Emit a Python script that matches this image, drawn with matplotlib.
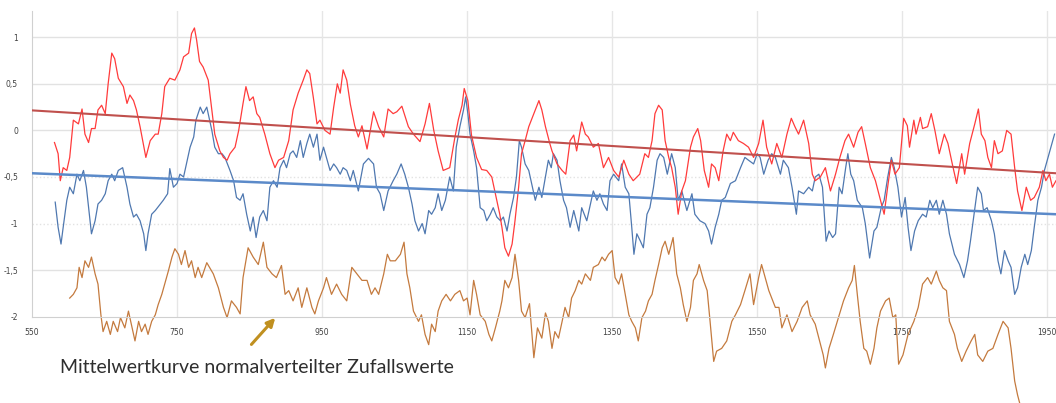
import matplotlib
matplotlib.use("Agg")
from matplotlib import pyplot as plt

# values
red_years = [581, 586, 589, 593, 598, 602, 607, 614, 619, 623, 628, 632, 637, 641, 646, 651, 655, 660, 664, 669,
             676, 681, 685, 690, 694, 699, 707, 713, 720, 724, 729, 733, 740, 747, 754, 759, 766, 770, 774, 777,
             781, 786, 793, 798, 802, 809, 814, 819, 823, 830, 835, 841, 845, 850, 855, 860, 864, 871, 878, 885,
             890, 897, 904, 910, 917, 924, 929, 933, 938, 943, 947, 954, 961, 966, 971, 975, 979, 984, 989, 995,
             1000, 1005, 1012, 1016, 1021, 1028, 1035, 1041, 1048, 1053, 1060, 1069, 1076, 1085, 1092, 1098, 1104, 1110, 1117, 1126,
             1133, 1138, 1143, 1146, 1151, 1156, 1163, 1170, 1177, 1184, 1189, 1195, 1198, 1202, 1207, 1212, 1216, 1221, 1225, 1230,
             1235, 1242, 1249, 1253, 1258, 1264, 1267, 1274, 1281, 1286, 1292, 1297, 1301, 1308, 1313, 1317, 1324, 1331, 1338, 1345,
             1352, 1359, 1366, 1373, 1379, 1388, 1395, 1400, 1405, 1409, 1414, 1419, 1423, 1428, 1432, 1437, 1441, 1446, 1451, 1458,
             1462, 1468, 1472, 1477, 1483, 1487, 1492, 1497, 1503, 1508, 1513, 1517, 1524, 1531, 1538, 1545, 1552, 1558, 1563, 1570,
             1577, 1584, 1591, 1597, 1602, 1607, 1614, 1621, 1626, 1630, 1637, 1644, 1651, 1658, 1664, 1671, 1676, 1683, 1689, 1694,
             1699, 1706, 1713, 1720, 1725, 1730, 1735, 1740, 1746, 1752, 1757, 1760, 1766, 1769, 1775, 1778, 1785, 1790, 1795, 1801,
             1808, 1813, 1819, 1825, 1832, 1836, 1843, 1850, 1855, 1859, 1864, 1868, 1873, 1877, 1882, 1888, 1894, 1900, 1905, 1909,
             1915, 1921, 1927, 1932, 1939, 1944, 1948, 1953, 1957, 1962]
red_vals = [-0.13, -0.25, -0.54, -0.40, -0.43, -0.29, 0.11, 0.07, 0.23, -0.04, -0.13, 0.02, 0.02, 0.22, 0.27, 0.18, 0.50, 0.83, 0.77, 0.56,
            0.47, 0.29, 0.38, 0.32, 0.22, 0.04, -0.29, -0.11, -0.04, -0.04, 0.18, 0.47, 0.56, 0.54, 0.65, 0.79, 0.83, 1.04, 1.10, 0.97,
            0.74, 0.68, 0.54, 0.22, -0.04, -0.22, -0.29, -0.32, -0.25, -0.18, 0.00, 0.29, 0.47, 0.32, 0.36, 0.18, 0.14, -0.04, -0.25, -0.40,
            -0.32, -0.29, -0.11, 0.22, 0.40, 0.54, 0.65, 0.61, 0.35, 0.07, 0.11, 0.00, -0.04, 0.25, 0.50, 0.40, 0.65, 0.54, 0.28, 0.05,
            -0.07, 0.05, -0.20, -0.02, 0.20, 0.04, -0.07, 0.23, 0.18, 0.20, 0.26, 0.04, -0.04, -0.12, 0.07, 0.29, 0.00, -0.22, -0.43, -0.40,
            -0.08, 0.12, 0.27, 0.45, 0.32, -0.05, -0.29, -0.42, -0.43, -0.50, -0.68, -0.90, -1.04, -1.26, -1.35, -1.22, -0.97, -0.61, -0.25, -0.11,
            0.04, 0.18, 0.32, 0.22, 0.04, -0.14, -0.22, -0.36, -0.43, -0.47, -0.11, -0.05, -0.22, 0.09, -0.04, -0.07, -0.18, -0.14, -0.40, -0.29,
            -0.43, -0.50, -0.32, -0.47, -0.54, -0.47, -0.25, -0.29, -0.11, 0.18, 0.27, 0.22, -0.11, -0.29, -0.40, -0.61, -0.90, -0.65, -0.54, -0.18,
            -0.07, 0.02, -0.11, -0.43, -0.61, -0.36, -0.40, -0.54, -0.22, -0.04, -0.11, -0.02, -0.11, -0.14, -0.18, -0.29, -0.14, 0.11, -0.18, -0.36,
            -0.14, -0.29, -0.04, 0.13, 0.04, -0.04, 0.11, -0.14, -0.47, -0.54, -0.50, -0.40, -0.65, -0.47, -0.29, -0.11, -0.04, -0.18, -0.02, 0.04,
            -0.14, -0.40, -0.54, -0.75, -0.90, -0.60, -0.32, -0.47, -0.40, 0.13, 0.05, -0.18, 0.11, -0.04, 0.14, 0.02, 0.04, 0.18, 0.00, -0.25,
            -0.04, -0.14, -0.36, -0.57, -0.25, -0.47, -0.14, 0.07, 0.23, -0.04, -0.11, -0.29, -0.40, -0.11, -0.25, -0.22, 0.00, -0.04, -0.40, -0.65,
            -0.86, -0.61, -0.75, -0.72, -0.61, -0.43, -0.54, -0.47, -0.61, -0.54]

blue_years = [582, 586, 590, 593, 598, 602, 607, 612, 616, 621, 625, 629, 632, 637, 641, 646, 651, 655, 660, 664,
              669, 675, 681, 685, 690, 694, 699, 704, 707, 710, 715, 720, 727, 731, 737, 740, 745, 750, 754, 759,
              763, 768, 773, 776, 782, 786, 791, 795, 798, 802, 807, 812, 816, 823, 828, 832, 837, 841, 846, 851,
              855, 859, 864, 869, 874, 878, 883, 888, 892, 897, 901, 906, 910, 915, 920, 924, 929, 933, 938, 943,
              947, 952, 956, 961, 966, 970, 975, 979, 984, 989, 993, 1000, 1007, 1014, 1021, 1025, 1030, 1035, 1041, 1048,
              1053, 1059, 1064, 1069, 1074, 1078, 1083, 1088, 1092, 1097, 1101, 1106, 1110, 1115, 1120, 1126, 1131, 1135, 1140, 1145,
              1148, 1151, 1154, 1159, 1163, 1168, 1173, 1177, 1182, 1186, 1191, 1196, 1200, 1205, 1209, 1214, 1218, 1222, 1225, 1230,
              1235, 1239, 1244, 1249, 1253, 1258, 1262, 1266, 1269, 1274, 1278, 1283, 1287, 1292, 1297, 1304, 1308, 1315, 1320, 1324,
              1329, 1333, 1338, 1343, 1347, 1352, 1359, 1363, 1368, 1373, 1377, 1380, 1384, 1389, 1393, 1398, 1402, 1407, 1412, 1416,
              1421, 1426, 1432, 1437, 1441, 1446, 1453, 1460, 1464, 1471, 1478, 1483, 1487, 1492, 1497, 1501, 1506, 1513, 1520, 1527,
              1533, 1538, 1545, 1550, 1554, 1559, 1565, 1570, 1575, 1582, 1586, 1593, 1598, 1604, 1607, 1614, 1621, 1626, 1630, 1635,
              1640, 1645, 1649, 1654, 1658, 1663, 1667, 1672, 1675, 1679, 1683, 1688, 1695, 1699, 1705, 1711, 1715, 1721, 1725, 1730,
              1735, 1739, 1744, 1749, 1754, 1758, 1762, 1767, 1772, 1778, 1783, 1788, 1792, 1797, 1801, 1806, 1811, 1815, 1822, 1829,
              1835, 1840, 1844, 1849, 1854, 1859, 1862, 1867, 1873, 1877, 1882, 1886, 1891, 1896, 1900, 1905, 1909, 1914, 1919, 1923,
              1928, 1932, 1937, 1942, 1946, 1951, 1955, 1960]
blue_vals = [-0.77, -1.04, -1.22, -1.04, -0.75, -0.61, -0.68, -0.47, -0.54, -0.43, -0.61, -0.90, -1.11, -0.97, -0.79, -0.75, -0.68, -0.54, -0.47, -0.54,
             -0.43, -0.40, -0.61, -0.79, -0.93, -0.90, -0.97, -1.11, -1.29, -1.11, -0.90, -0.86, -0.79, -0.75, -0.68, -0.41, -0.61, -0.57, -0.47, -0.50,
             -0.36, -0.18, -0.07, 0.11, 0.25, 0.18, 0.25, 0.11, 0.00, -0.18, -0.25, -0.25, -0.29, -0.43, -0.54, -0.72, -0.75, -0.68, -0.90, -1.08,
             -0.93, -1.15, -0.93, -0.86, -0.97, -0.61, -0.54, -0.61, -0.40, -0.32, -0.40, -0.25, -0.22, -0.29, -0.11, -0.29, -0.14, -0.04, -0.18, -0.04,
             -0.32, -0.18, -0.29, -0.43, -0.36, -0.40, -0.47, -0.40, -0.43, -0.54, -0.43, -0.65, -0.36, -0.30, -0.36, -0.61, -0.68, -0.86, -0.65, -0.54,
             -0.47, -0.36, -0.47, -0.61, -0.79, -0.97, -1.08, -1.00, -1.11, -0.86, -0.90, -0.83, -0.68, -0.86, -0.75, -0.50, -0.65, -0.18, 0.04, 0.22,
             0.36, 0.18, -0.04, -0.22, -0.40, -0.83, -0.86, -0.97, -0.90, -0.83, -0.93, -0.97, -0.93, -1.08, -0.90, -0.72, -0.50, -0.11, -0.18, -0.36,
             -0.43, -0.57, -0.75, -0.61, -0.72, -0.50, -0.32, -0.40, -0.25, -0.32, -0.54, -0.75, -0.83, -1.04, -0.86, -1.08, -0.83, -0.97, -0.79, -0.65,
             -0.75, -0.68, -0.79, -0.86, -0.54, -0.47, -0.54, -0.36, -0.61, -0.68, -1.04, -1.33, -1.11, -1.19, -1.26, -0.90, -0.83, -0.61, -0.32, -0.25,
             -0.29, -0.47, -0.25, -0.40, -0.75, -0.65, -0.86, -0.68, -0.90, -0.97, -1.00, -1.08, -1.22, -1.04, -0.90, -0.75, -0.72, -0.57, -0.54, -0.40,
             -0.29, -0.32, -0.36, -0.25, -0.29, -0.47, -0.32, -0.25, -0.29, -0.47, -0.32, -0.40, -0.61, -0.90, -0.65, -0.68, -0.61, -0.65, -0.50, -0.47,
             -0.61, -1.19, -1.08, -1.15, -1.11, -0.61, -0.68, -0.40, -0.25, -0.47, -0.54, -0.75, -0.83, -1.00, -1.37, -1.08, -1.04, -0.83, -0.75, -0.50,
             -0.29, -0.40, -0.61, -0.93, -0.72, -1.04, -1.29, -1.08, -0.97, -0.90, -0.93, -0.75, -0.83, -0.75, -0.90, -0.75, -0.90, -1.11, -1.33, -1.44,
             -1.58, -1.40, -1.19, -0.90, -0.61, -0.68, -0.86, -0.83, -0.97, -1.11, -1.40, -1.54, -1.29, -1.40, -1.47, -1.76, -1.69, -1.47, -1.33, -1.44,
             -1.29, -1.04, -0.75, -0.61, -0.43, -0.29, -0.18, -0.04]

brown_years = [602, 607, 612, 615, 619, 623, 628, 632, 637, 641, 645, 648, 653, 658, 662, 668, 672, 678, 683, 688,
               692, 697, 701, 706, 710, 715, 720, 724, 729, 733, 738, 743, 747, 752, 756, 761, 766, 770, 775, 779,
               784, 791, 800, 807, 814, 819, 825, 832, 837, 841, 848, 855, 862, 869, 874, 881, 887, 894, 899, 904,
               910, 917, 922, 929, 936, 940, 945, 952, 956, 963, 970, 977, 984, 991, 998, 1005, 1012, 1018, 1023, 1028,
               1035, 1040, 1044, 1051, 1058, 1063, 1067, 1071, 1076, 1083, 1087, 1092, 1097, 1101, 1106, 1110, 1115, 1121, 1127, 1133,
               1140, 1145, 1150, 1154, 1159, 1163, 1168, 1175, 1180, 1184, 1189, 1195, 1198, 1202, 1207, 1212, 1216, 1221, 1225, 1230,
               1236, 1242, 1247, 1253, 1258, 1262, 1267, 1271, 1276, 1281, 1285, 1290, 1294, 1299, 1304, 1308, 1313, 1320, 1324, 1331,
               1336, 1340, 1345, 1350, 1354, 1359, 1363, 1368, 1373, 1377, 1382, 1386, 1391, 1396, 1400, 1405, 1409, 1414, 1419, 1423,
               1428, 1434, 1439, 1444, 1448, 1453, 1458, 1462, 1467, 1470, 1476, 1481, 1485, 1490, 1494, 1501, 1508, 1515, 1520, 1527,
               1533, 1540, 1545, 1552, 1556, 1561, 1566, 1570, 1575, 1580, 1584, 1591, 1598, 1605, 1612, 1619, 1623, 1630, 1635, 1641,
               1644, 1649, 1655, 1662, 1669, 1676, 1681, 1684, 1688, 1692, 1697, 1701, 1706, 1711, 1715, 1720, 1727, 1732, 1737, 1741,
               1745, 1751, 1758, 1766, 1772, 1778, 1785, 1790, 1797, 1801, 1806, 1811, 1815, 1822, 1826, 1832, 1838, 1845, 1850, 1854,
               1861, 1868, 1875, 1882, 1889, 1896, 1900, 1905, 1909, 1912]
brown_vals = [-1.80, -1.76, -1.69, -1.47, -1.58, -1.40, -1.47, -1.36, -1.54, -1.65, -1.98, -2.16, -2.05, -2.19, -2.05, -2.16, -2.01, -2.12, -1.94, -2.12,
              -2.26, -2.05, -2.16, -2.08, -2.19, -2.05, -1.98, -1.87, -1.76, -1.65, -1.51, -1.36, -1.27, -1.33, -1.44, -1.29, -1.47, -1.40, -1.58, -1.47,
              -1.58, -1.42, -1.54, -1.69, -1.90, -2.01, -1.83, -1.90, -1.97, -1.58, -1.26, -1.36, -1.44, -1.20, -1.47, -1.54, -1.58, -1.45, -1.76, -1.72,
              -1.83, -1.69, -1.90, -1.69, -1.90, -1.97, -1.83, -1.69, -1.58, -1.76, -1.65, -1.76, -1.83, -1.47, -1.54, -1.61, -1.61, -1.76, -1.69, -1.76,
              -1.54, -1.33, -1.40, -1.40, -1.33, -1.20, -1.54, -1.69, -1.94, -2.05, -1.98, -2.19, -2.30, -2.08, -2.16, -1.94, -1.83, -1.76, -1.83, -1.76,
              -1.72, -1.83, -1.80, -1.98, -1.61, -1.76, -1.98, -2.05, -2.19, -2.26, -2.12, -1.94, -1.83, -1.61, -1.69, -1.58, -1.33, -1.61, -1.94, -2.01,
              -1.86, -2.44, -2.12, -2.23, -1.96, -2.05, -2.34, -2.16, -2.23, -2.05, -1.90, -2.01, -1.80, -1.72, -1.61, -1.65, -1.54, -1.61, -1.47, -1.44,
              -1.36, -1.40, -1.33, -1.29, -1.58, -1.65, -1.54, -1.76, -1.98, -2.05, -2.12, -2.26, -2.01, -1.94, -1.83, -1.76, -1.61, -1.44, -1.26, -1.19,
              -1.33, -1.15, -1.54, -1.69, -1.87, -2.05, -1.90, -1.61, -1.54, -1.44, -1.61, -1.72, -2.05, -2.48, -2.37, -2.34, -2.26, -2.05, -1.98, -1.87,
              -1.72, -1.54, -1.87, -1.58, -1.44, -1.58, -1.72, -1.80, -1.90, -1.90, -2.12, -1.98, -2.16, -2.05, -1.90, -1.83, -1.98, -2.08, -2.23, -2.41,
              -2.55, -2.34, -2.19, -2.01, -1.83, -1.69, -1.61, -1.45, -1.76, -2.05, -2.34, -2.37, -2.51, -2.34, -2.12, -1.94, -1.83, -1.80, -2.01, -1.98,
              -2.51, -2.41, -2.19, -2.05, -1.90, -1.65, -1.58, -1.65, -1.51, -1.61, -1.69, -1.72, -2.05, -2.19, -2.34, -2.48, -2.37, -2.26, -2.19, -2.41,
              -2.48, -2.37, -2.34, -2.19, -2.05, -2.12, -2.34, -2.69, -2.84, -2.93]

# linear trend lines (end points)
trend_years = [550, 1962]
red_trend = [0.215, -0.46]
blue_trend = [-0.46, -0.90]

x_ticks = [550, 750, 950, 1150, 1350, 1550, 1750, 1950]
y_ticks = [-2, -1.5, -1, -0.5, 0, 0.5, 1]
y_labels = ["-2", "-1,5", "-1", "-0,5", "0", "0,5", "1"]
note = "Mittelwertkurve normalverteilter Zufallswerte"

fig = plt.figure(figsize=(10.56, 4.03), dpi=100)
ax = fig.add_axes([32 / 1056, 1 - 316.7 / 403, 1 - 32 / 1056, (316.7 - 11) / 403])
ax.set_xlim(550, 1962)
ax.set_ylim(-2, 1.282)

# grid
for yv in y_ticks[1:]:
    ls = ":" if yv in (-0.5, -1) else "-"
    ax.axhline(yv, color="#e2e2e2", lw=1.0, ls=ls, zorder=0)
for xv in x_ticks[1:]:
    ax.axvline(xv, color="#e6e6e6", lw=1.0, zorder=0)

ax.plot(blue_years, blue_vals, color="#4f78b0", lw=0.9, zorder=2)
ax.plot(red_years, red_vals, color="#ff3b3b", lw=0.9, zorder=3)
ax.plot(brown_years, brown_vals, color="#c47a3e", lw=0.9, zorder=2, clip_on=False)
ax.plot(trend_years, red_trend, color="#c0504d", lw=1.5, zorder=4)
ax.plot(trend_years, blue_trend, color="#5b8ac9", lw=1.8, zorder=4)

for side in ["top", "right"]:
    ax.spines[side].set_visible(False)
ax.spines["left"].set_color("#d0d0d0")
ax.spines["bottom"].set_color("#d0d0d0")

ax.set_xticks(x_ticks)
ax.set_xticklabels([str(t) for t in x_ticks])
ax.set_yticks(y_ticks)
ax.set_yticklabels(y_labels)
ax.tick_params(axis="both", length=0, labelsize=5.5, labelcolor="#404040")
ax.tick_params(axis="y", pad=10)
ax.tick_params(axis="x", pad=8)

# note with arrow
ax.annotate("", xy=(888, -1.99), xytext=(850, -2.32), xycoords="data",
            arrowprops=dict(arrowstyle="-|>", color="#c09020", lw=2.2, mutation_scale=12),
            annotation_clip=False)
fig.text(60 / 1056, 1 - 373 / 403, note, fontsize=14, color="#2e2e2e",
         family="Lato", va="baseline", ha="left")

plt.savefig("out.png", dpi=100)
